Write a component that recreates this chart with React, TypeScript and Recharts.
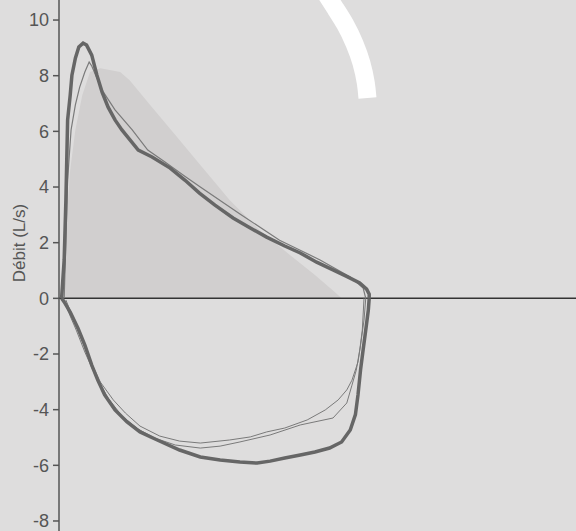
import React from 'react';
import { ComposedChart, Line, Area, XAxis, YAxis, ReferenceLine } from 'recharts';

// [volume (L), flow (L/s)]
const thickExp: [number, number][] = [
  [0.03, 0], [0.06, 1.38], [0.07, 2.45], [0.08, 3.53], [0.09, 4.97], [0.1, 6.41], [0.13, 7.3],
  [0.15, 8.02], [0.19, 8.63], [0.23, 9.03], [0.28, 9.17], [0.32, 9.1], [0.38, 8.74], [0.44, 8.02],
  [0.5, 7.41], [0.57, 6.87], [0.65, 6.41], [0.73, 6.05], [0.92, 5.33], [1.08, 5.08], [1.29, 4.68],
  [1.46, 4.25], [1.63, 3.78], [1.81, 3.35], [2.02, 2.89], [2.22, 2.53], [2.41, 2.2], [2.62, 1.88],
  [2.8, 1.63], [2.99, 1.3], [3.18, 1.02], [3.35, 0.77], [3.49, 0.55], [3.57, 0.33], [3.6, 0.15], [3.6, 0],
];
const thickInsp: [number, number][] = [
  [3.6, 0], [3.59, -0.42], [3.56, -1.14], [3.53, -1.84], [3.5, -2.56], [3.47, -3.47], [3.44, -4.18],
  [3.38, -4.73], [3.28, -5.16], [3.14, -5.38], [2.97, -5.52], [2.8, -5.63], [2.62, -5.74], [2.45, -5.85],
  [2.3, -5.92], [2.1, -5.88], [1.87, -5.81], [1.64, -5.7], [1.4, -5.45], [1.14, -5.09], [0.94, -4.8],
  [0.79, -4.44], [0.65, -4.01], [0.53, -3.47], [0.45, -2.94], [0.38, -2.4], [0.3, -1.68], [0.22, -1.07],
  [0.13, -0.49], [0.06, -0.13], [0.03, 0],
];
const thinExp: [number, number][] = [
  [0.06, 0], [0.08, 2.09], [0.1, 4.25], [0.14, 6.05], [0.19, 6.95], [0.24, 7.59], [0.3, 8.13],
  [0.35, 8.49], [0.38, 8.35], [0.5, 7.48], [0.65, 6.77], [0.85, 6.05], [1.03, 5.33], [1.23, 4.9],
  [1.46, 4.39], [1.64, 4.0], [2.1, 3.03], [2.56, 2.09], [3.03, 1.38], [3.38, 0.77], [3.53, 0.37], [3.56, 0],
];
const thinInsp1: [number, number][] = [
  [3.56, 0], [3.54, -0.78], [3.5, -1.68], [3.47, -2.29], [3.4, -2.94], [3.34, -3.29], [3.24, -3.65],
  [3.09, -4.01], [2.88, -4.37], [2.62, -4.66], [2.41, -4.8], [2.22, -4.98], [1.98, -5.09], [1.64, -5.2],
  [1.4, -5.13], [1.17, -4.95], [0.94, -4.59], [0.77, -4.12], [0.63, -3.65], [0.48, -3.01], [0.36, -2.22],
  [0.24, -1.32], [0.15, -0.6], [0.08, -0.06],
];
const thinInsp2: [number, number][] = [
  [3.54, 0], [3.52, -1.14], [3.49, -1.86], [3.45, -2.58], [3.4, -3.12], [3.34, -3.76], [3.18, -4.3],
  [2.8, -4.55], [2.45, -4.91], [2.1, -5.16], [1.87, -5.31], [1.64, -5.38], [1.35, -5.27], [1.11, -5.02],
  [0.92, -4.7], [0.73, -4.23], [0.57, -3.58], [0.42, -2.76], [0.3, -1.93], [0.2, -1.14], [0.1, -0.42], [0.05, 0],
];
// predicted expiratory curve (shaded)
const predicted: [number, number][] = [
  [0.03, 0], [0.08, 2.45], [0.13, 4.61], [0.19, 6.05], [0.27, 7.3], [0.36, 8.13], [0.48, 8.27],
  [0.71, 8.13], [0.82, 7.84], [1.06, 6.94], [1.35, 5.87], [1.64, 4.79], [1.98, 3.53], [2.33, 2.45],
  [2.68, 1.56], [2.97, 0.84], [3.2, 0.23], [3.28, 0],
];
// white scan artefact at the top
const glare: [number, number][] = [
  [3.07, 11.08], [3.2, 10.45], [3.32, 9.85], [3.43, 9.15], [3.51, 8.45], [3.56, 7.75], [3.58, 7.2],
];

const yTicks = [-8, -6, -4, -2, 0, 2, 4, 6, 8, 10];

const toRows = (pts: [number, number][]) => pts.map(([v, f]) => ({ v, f }));

const App = () => {
  return (
    <div style={{ position: 'absolute', left: 0, top: 0, width: 576, height: 531, background: '#dedddd' }}>
      <ComposedChart width={576} height={531} margin={{ top: 0, right: 0, left: 0, bottom: 0 }}>
        <XAxis type="number" dataKey="v" domain={[0, 6]} hide allowDataOverflow />
        <YAxis
          type="number"
          domain={[-8.36, 10.72]}
          ticks={yTicks}
          interval={0}
          allowDataOverflow
          width={59}
          tickSize={6}
          tickMargin={4}
          stroke="#555"
          strokeWidth={1.5}
          tick={{ fill: '#555', fontSize: 18, fontFamily: 'Liberation Sans, Arial, sans-serif' }}
          label={{
            content: () => (
              <text
                x={19}
                y={243}
                transform="rotate(-90, 19, 243)"
                textAnchor="middle"
                dominantBaseline="central"
                fill="#555"
                fontSize={17}
                fontFamily="Liberation Sans, Arial, sans-serif"
              >
                Débit (L/s)
              </text>
            ),
          }}
        />
        <Area
          data={toRows(predicted)}
          dataKey="f"
          type="linear"
          baseValue={0}
          stroke="none"
          fill="#d1cfcf"
          fillOpacity={1}
          isAnimationActive={false}
        />
        <ReferenceLine y={0} stroke="#333" strokeWidth={1.5} />
        <Line data={toRows(glare)} dataKey="f" type="natural" stroke="#ffffff" strokeWidth={18} strokeLinecap="butt" dot={false} isAnimationActive={false} />
        <Line data={toRows(thinExp)} dataKey="f" type="linear" stroke="#7a7a7a" strokeWidth={1.2} dot={false} isAnimationActive={false} />
        <Line data={toRows(thinInsp1)} dataKey="f" type="linear" stroke="#7a7a7a" strokeWidth={1} dot={false} isAnimationActive={false} />
        <Line data={toRows(thinInsp2)} dataKey="f" type="linear" stroke="#7a7a7a" strokeWidth={1} dot={false} isAnimationActive={false} />
        <Line data={toRows(thickExp)} dataKey="f" type="linear" stroke="#666" strokeWidth={3.5} dot={false} isAnimationActive={false} />
        <Line data={toRows(thickInsp)} dataKey="f" type="linear" stroke="#666" strokeWidth={3.5} dot={false} isAnimationActive={false} />
      </ComposedChart>
    </div>
  );
};

export default App;
